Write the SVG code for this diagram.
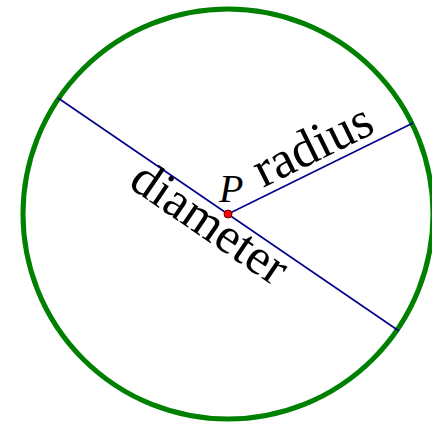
<svg xmlns="http://www.w3.org/2000/svg" width="432" height="424" viewBox="0 0 432 424">
<style>
.lbl{font-family:"Liberation Serif","Times New Roman",serif;fill:#000}
.seg{stroke:#00008b;stroke-width:1.6;fill:none}
</style>
<rect width="432" height="424" fill="#fff"/>
<g id="circle"><circle cx="228" cy="214" r="205" fill="none" stroke="#008000" stroke-width="5"/></g>
<g id="connectors">
<line class="seg" x1="58" y1="98" x2="399" y2="331"/>
<line class="seg" x1="228" y1="214" x2="413" y2="123"/>
</g>
<g id="center"><circle cx="228" cy="214" r="4" fill="#f00" stroke="#600" stroke-width="1"/>
<text class="lbl" x="219" y="202" font-size="40" font-style="italic">P</text></g>
<g id="diameter-label"><text class="lbl" font-size="51" transform="translate(127,186) rotate(34.4)">diameter</text></g>
<g id="radius-label"><text class="lbl" font-size="52" transform="translate(263,188) rotate(-26.2)">radius</text></g>
</svg>
